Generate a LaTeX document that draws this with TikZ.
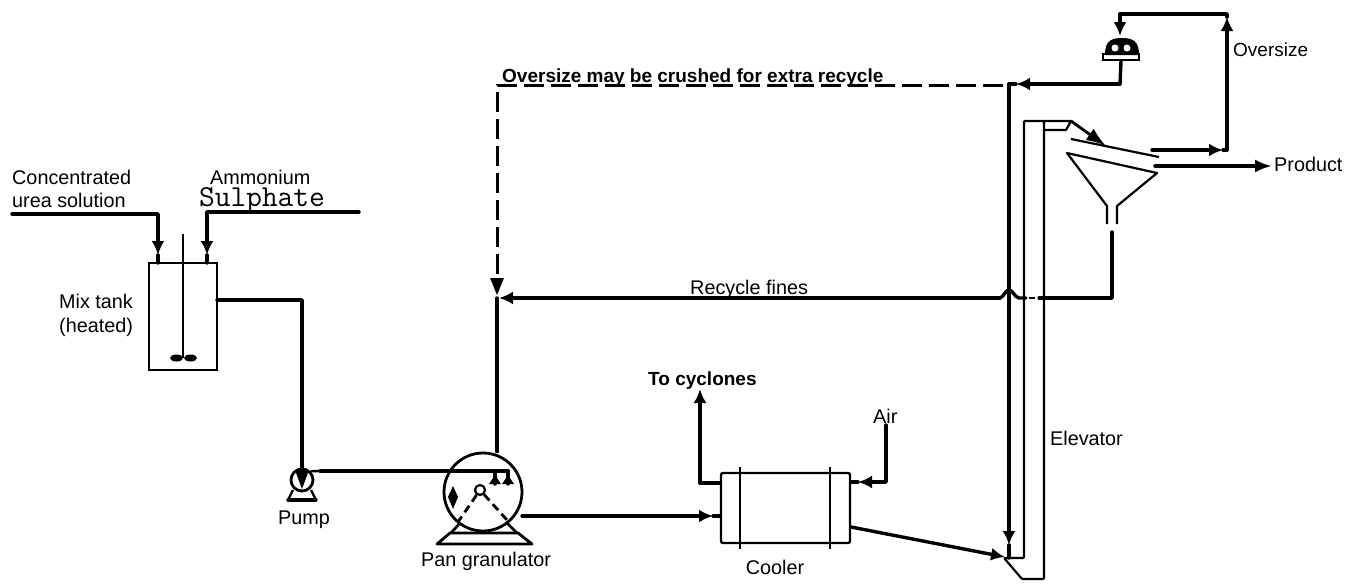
\documentclass[tikz,border=0pt]{standalone}
\usepackage{fontspec}
\setmainfont{Liberation Sans}
\usetikzlibrary{arrows.meta,calc}
\tikzset{
  pipe/.style={line width=3.4pt,line join=round,line cap=round},
  flow/.style={pipe,-{Latex[length=14pt,width=13pt]}},
  thin line/.style={line width=2.2pt,line join=round},
  vessel/.style={draw,line width=2.4pt,rectangle,inner sep=0pt},
  dash pipe/.style={line width=3pt,dash pattern=on 20pt off 7pt},
  lbl/.style={anchor=base west,inner sep=0pt,font=\fontsize{19.8}{22}\selectfont},
  lblc/.style={anchor=base,inner sep=0pt,font=\fontsize{19.8}{22}\selectfont},
  lblb/.style={anchor=base west,inner sep=0pt,font=\fontsize{19}{22}\selectfont\bfseries},
}
\begin{document}
\begin{tikzpicture}[x=1pt,y=-1pt]
\useasboundingbox (0,0) rectangle (1363,584);
% --- equipment
\node[vessel,minimum width=68pt,minimum height=107pt] (tank) at (183,316.5) {};
\node[draw,line width=2.8pt,circle,minimum size=78pt,inner sep=0pt] (pan) at (483,492) {};
\node[draw,line width=2.8pt,circle,minimum size=22pt,inner sep=0pt] (pump) at (302,480) {};
\node[vessel,rounded corners=2pt,minimum width=129pt,minimum height=70pt] (cooler) at (785.5,508) {};
\node[draw,line width=2.2pt,circle,minimum size=10pt,inner sep=0pt] (hub) at (480,490) {};
% --- text
\node[lbl] (t1) at (12,184) {Concentrated};
\node[lbl] (t2) at (12,207) {urea solution};
\node[lbl] (t3) at (210,184) {Ammonium};
\node[anchor=base west,inner sep=0pt,font=\fontsize{30.5}{32}\ttfamily] (t4) at (199,206) {Sulphate};
\node[lbl] (t5) at (59,308) {Mix tank};
\node[lbl] (t6) at (59,332) {(heated)};
\node[lblc] (t7) at (304,524) {Pump};
\node[lblc] (t8) at (486,566) {Pan granulator};
\node[lblc] (t9) at (775,574) {Cooler};
\node[lblb] (t10) at (648,385) {To cyclones};
\node[lbl] (t11) at (873,423) {Air};
\node[lbl] (t12) at (1050,445) {Elevator};
\node[lbl] (t13) at (690,294) {Recycle fines};
\node[lbl,font=\fontsize{19}{22}\selectfont] (t14) at (1233,56) {Oversize};
\node[lbl] (t15) at (1274,171) {Product};
\node[lblb] (t16) at (502,82) {Oversize may be crushed for extra recycle};
% --- mix tank
\coordinate (shT) at (183,234);
\coordinate (shB) at (183,358);
\draw[thin line] (shT) -- (shB);
\fill (176.5,358) ellipse[x radius=6.5pt,y radius=3.5pt];
\fill (190.5,358) ellipse[x radius=6.5pt,y radius=3.5pt];
\coordinate (u0) at (12,214);
\coordinate (u1) at (158,214);
\coordinate (u2) at (158,255);
\coordinate (u3) at (158,263);
\draw[flow] (u0) -- (u1) -- (u2);
\draw[pipe] (u2) -- (u3);
\coordinate (a0) at (359,212);
\coordinate (a1) at (207,212);
\coordinate (a2) at (207,255);
\coordinate (a3) at (207,263);
\draw[flow] (a0) -- (a1) -- (a2);
\draw[pipe] (a2) -- (a3);
% --- tank to pump to pan
\coordinate (m1) at (217,300);
\coordinate (m2) at (302,300);
\draw[pipe] (m1) -- (m2) -- (pump.north);
\fill (295,470) -- (309,470) -- (302,489) -- cycle;
\draw[line width=2.4pt] (pump.north east) -- (320,471);
\coordinate (p1) at (320,471);
\coordinate (p2) at (508,471);
\coordinate (p3) at (495,471);
\coordinate (n1) at (495,484);
\coordinate (n2) at (508,484);
\draw[pipe] (p1) -- (p2) -- (n2);
\draw[pipe] (p3) -- (n1);
\fill (489,484) -- (501,484) -- (495,475) -- cycle;
\fill (502,484) -- (514,484) -- (508,475) -- cycle;
\fill (453,486) -- (458,497) -- (453,509) -- (448,497) -- cycle;
\draw[line width=2.8pt,dash pattern=on 8pt off 5pt] (hub) -- (458,522);
\draw[line width=2.8pt,dash pattern=on 8pt off 5pt] (hub) -- (507,520);
% pump base
\coordinate (pb1) at (288,500);
\coordinate (pb2) at (316,500);
\draw[pipe] (pb1) -- (pb2);
\draw[line width=2.4pt] (293,490) -- (pb1);
\draw[line width=2.4pt] (311,490) -- (pb2);
% pan base
\coordinate (b1) at (437,544);
\coordinate (b2) at (532,544);
\coordinate (b3) at (518,533);
\coordinate (b4) at (450,533);
\draw[thin line,line width=2.8pt] (b1) -- (b2) -- (b3) -- (b4) -- cycle;
\draw[line width=2.8pt] (451,533) -- (460,523);
\draw[line width=2.8pt] (517,533) -- (506,522);
% --- pan outlets
\coordinate (c1) at (522,516);
\coordinate (c2) at (713,516);
\draw[flow] (c1) -- (c2);
\draw[pipe] (c2) -- (cooler.west |- c2);
\coordinate (r0) at (497,298);
\draw[pipe] (pan.north -| r0) -- (r0);
% --- cooler
\draw[thin line] (740,467) -- (740,549);
\draw[thin line] (830,467) -- (830,549);
\coordinate (cy1) at (700,483);
\coordinate (cy2) at (700,389);
\draw[flow] (cooler.west |- cy1) -- (cy1) -- (cy2);
\coordinate (ai0) at (886,425);
\coordinate (ai1) at (886,482);
\coordinate (ai2) at (858,482);
\draw[flow] (ai0) -- (ai1) -- (ai2);
\draw[pipe] (ai2) -- (ai2 -| cooler.east);
\coordinate (cx1) at (851,527);
\coordinate (cx2) at (1005,557);
\draw[flow] (cx1) -- (cx2);
% --- elevator
\coordinate (e1) at (1024,558);
\coordinate (e2) at (1024,121);
\coordinate (e3) at (1044,121);
\coordinate (e4) at (1044,579);
\coordinate (e5) at (1022,579);
\coordinate (e6) at (1004,558);
\draw[thin line,rounded corners=1pt] (e6) -- (e1) -- (e2) -- (e3) -- (e4) -- (e5) -- cycle;
\coordinate (s1) at (1044,121);
\coordinate (s2) at (1071,121);
\coordinate (s3) at (1066,130);
\coordinate (s4) at (1044,130);
\draw[thin line] (s1) -- (s2) -- (s3) -- (s4);
\coordinate (s5) at (1106,146);
\draw[line width=2.8pt,-{Latex[length=20pt,width=14pt]}] (s2) -- (s5);
% --- screen and funnel
\coordinate (sc1) at (1071,139);
\coordinate (sc2) at (1159,157);
\draw[thin line] (sc1) -- (sc2);
\coordinate (f1) at (1067,153);
\coordinate (f2) at (1157,173);
\coordinate (f3) at (1117,206);
\coordinate (f4) at (1117,224);
\coordinate (f5) at (1107,206);
\coordinate (f6) at (1107,224);
\draw[thin line] (f6) -- (f5) -- (f1) -- (f2) -- (f3) -- (f4);
% --- product
\coordinate (pr0) at (1155,166);
\coordinate (pr1) at (1272,166);
\draw[flow,-{Latex[length=17pt,width=13pt]}] (pr0) -- (pr1);
% --- oversize loop
\coordinate (o0) at (1152,150);
\coordinate (o1) at (1223,150);
\coordinate (o2) at (1227,150);
\coordinate (o3) at (1227,14);
\coordinate (o4) at (1120,14);
\coordinate (o5) at (1227,17);
\coordinate (o6) at (1120,36);
\draw[flow] (o0) -- (o1);
\draw[pipe] (o1) -- (o2);
\draw[pipe] (o2) -- (1227,34);
\draw[flow] (1227,34) -- (o5);
\draw[pipe] (o5) -- (o3) -- (o4);
\draw[flow] (o4) -- (o6);
% --- crusher
\node[inner sep=0pt,minimum width=36pt,minimum height=6pt,draw,line width=2.4pt,anchor=south] (cr) at (1121,61) {};
\fill (1105,55) .. controls (1105,42) and (1110,38) .. (1122,38) .. controls (1134,38) and (1139,42) .. (1139,55) -- cycle;
\fill[white] (1115,48) circle[radius=3.5pt];
\fill[white] (1127,48) circle[radius=3.5pt];
\coordinate (k1) at (1120,84);
\coordinate (k2) at (1009,84);
\coordinate (k3) at (1016,84);
\coordinate (k4) at (1009,545);
\draw[pipe] (cr.south) -- (k1);
\draw[flow] (k1) -- (k3);
\draw[pipe] (k3) -- (k2);
\draw[flow] (k2) -- (k4);
\draw[pipe] (k4) -- (1009,558);
% --- dashed recycle
\coordinate (d0) at (1003,85);
\coordinate (d1) at (497,85);
\coordinate (d2) at (497,290);
\draw[dash pipe] (d0) -- (d1) -- (d2);
\fill (490,278) -- (504,278) -- (497,295) -- cycle;
% --- recycle fines
\coordinate (rf0) at (1112,232);
\coordinate (rf1) at (1112,298);
\coordinate (rf2) at (1039,298);
\coordinate (rf3) at (1026,298);
\coordinate (rf4) at (1000,298);
\coordinate (rf5) at (499,298);
\draw[pipe] (rf0) -- (rf1) -- (rf2);
\draw[line width=2.2pt] (1029,298) -- (1035,298);
\draw[pipe] (rf3) -- (1019,298) .. controls (1014,297) and (1013,290) .. (1009,290) .. controls (1005,290) and (1004,297) .. (rf4);
\draw[flow] (rf4) -- (rf5);
\end{tikzpicture}
\end{document}
